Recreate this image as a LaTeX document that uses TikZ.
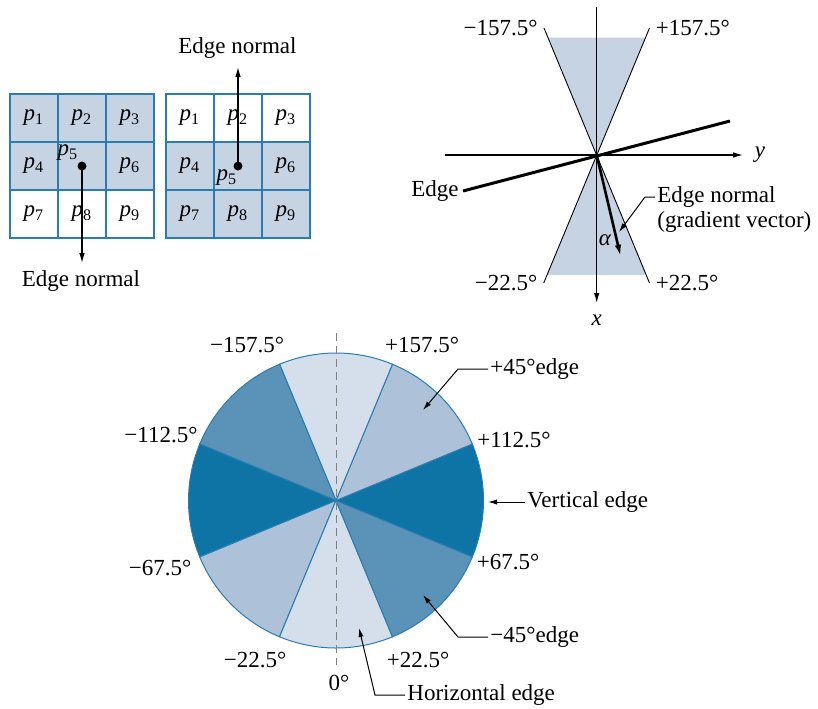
\documentclass[tikz,border=0pt]{standalone}
\usepackage{fontspec}
\setmainfont{Liberation Serif}
\usetikzlibrary{arrows.meta,positioning}
\definecolor{gridline}{HTML}{2A7DB0}
\definecolor{cellfill}{HTML}{C6D3E3}
\definecolor{secA}{HTML}{D5DFEB}
\definecolor{secB}{HTML}{ADC1D9}
\definecolor{secC}{HTML}{5A92B8}
\definecolor{secD}{HTML}{0D74A5}
\newcommand{\pix}[1]{\textit{p}\textsubscript{#1}}

\begin{document}
\begin{tikzpicture}[x=0.5pt, y=-0.5pt,
  every node/.style={font=\fontsize{11.5}{13.5}\selectfont, inner sep=1pt},
  cell/.style={draw=gridline, line width=0.7pt, minimum size=24pt, inner sep=0pt},
  shadedcell/.style={cell, fill=cellfill},
  plaincell/.style={cell, fill=white},
  dot/.style={circle, fill=black, inner sep=0pt, minimum size=4.5pt},
  arr/.style={-{Latex[length=5pt,width=2.8pt]}, line width=0.6pt},
  lead/.style={-{Latex[length=4.5pt,width=2.6pt]}, line width=0.5pt},
  wedgeline/.style={line width=0.45pt},
  edgeline/.style={line width=1.5pt},
  normalarr/.style={-{Latex[length=6pt,width=3.2pt]}, line width=1.3pt},
  sector/.style={draw=gridline, line width=0.5pt},
  angle/.style={}
]
\useasboundingbox (0,0) rectangle (818,708);

\foreach \i in {1,...,9}{
  \pgfmathtruncatemacro{\col}{mod(\i-1,3)}
  \pgfmathtruncatemacro{\row}{div(\i-1,3)}
  \ifnum\row<2
    \node[shadedcell] (L\i) at ({34+48*\col},{118+48*\row}) {\ifnum\i=5 \else\pix{\i}\fi};
  \else
    \node[plaincell] (L\i) at ({34+48*\col},{118+48*\row}) {\ifnum\i=5 \else\pix{\i}\fi};
  \fi
  \ifnum\row>0
    \node[shadedcell] (R\i) at ({190+48*\col},{118+48*\row}) {\ifnum\i=5 \else\pix{\i}\fi};
  \else
    \node[plaincell] (R\i) at ({190+48*\col},{118+48*\row}) {\ifnum\i=5 \else\pix{\i}\fi};
  \fi
}
\node (lp5) at (68,153) {\pix{5}};
\node (rp5) at (227,178) {\pix{5}};
\node[dot] (ldot) at (L5.center) {};
\node[dot] (rdot) at (R5.center) {};
\coordinate (ltip) at (82,263);
\coordinate (rtip) at (238,67);
\node (lnormal) at (81,281) {Edge normal};
\node (rnormal) at (237.5,48) {Edge normal};
\draw[arr] (ldot.center) -- (ltip);
\draw[arr] (rdot.center) -- (rtip);

\coordinate (o) at (596.7,155);
\coordinate (xtop) at (596.7,7);
\coordinate (xtip) at (596.7,303);
\coordinate (yleft) at (445,155);
\coordinate (ytip) at (743,155);
\coordinate (w1) at (544,28);
\coordinate (w2) at (649.5,28);
\coordinate (w3) at (543.7,283);
\coordinate (w4) at (649.5,283);
\fill[cellfill] (o) -- (548.1,37.7) -- (645.3,37.7) -- cycle;
\fill[cellfill] (o) -- (547,275) -- (646.4,275) -- cycle;
\draw[wedgeline] (w1) -- (w4);
\draw[wedgeline] (w2) -- (w3);
\draw[arr] (xtop) -- (xtip);
\draw[arr] (yleft) -- (ytip);
\node (xlab) at (596.7,320) {\textit{x}};
\node (ylab) at (760,155) {\textit{y}};
\node[left=2pt of w1] (tm157) {−157.5°};
\node[right=2pt of w2] (tp157) {+157.5°};
\node[left=2pt of w3] (tm22) {−22.5°};
\node[right=2pt of w4] (tp22) {+22.5°};
\coordinate (edgeL) at (463,191);
\coordinate (edgeR) at (730,121);
\draw[edgeline] (edgeL) -- (edgeR);
\node[left=1pt of edgeL] (edgelab) {Edge};
\coordinate (ntip) at (620.7,256.7);
\draw[normalarr] (o) -- (ntip);
\node (alpha) at (605,240) {\textit{α}};
\node[anchor=west] (gn1) at (655,197) {Edge normal};
\node[anchor=west] (gn2) at (655,222) {(gradient vector)};
\coordinate (gtip) at (619,232);
\draw[lead] (gn1.west) -- ++(-10,0) -- (gtip);

\coordinate (c) at (336,500.5);
\foreach \a/\fc in {-22.5/secD, 22.5/secB, 67.5/secA, 112.5/secC, 157.5/secD, 202.5/secB, 247.5/secA, 292.5/secC}
  \filldraw[sector, fill=\fc] (c) -- ++(\a:73.75pt) arc[start angle=\a, end angle=\a+45, radius=73.75pt] -- cycle;
\coordinate (dtop) at (336,333);
\coordinate (dbot) at (336,665);
\draw[gray, line width=0.5pt, dash pattern=on 4pt off 2.5pt] (dtop) -- (dbot);

\node (cm157) at (247,345) {−157.5°};
\node (cp157) at (422,345) {+157.5°};
\node (cm112) at (161,435) {−112.5°};
\node (cp112) at (514,440) {+112.5°};
\node (cm67) at (160,568) {−67.5°};
\node (cp67) at (508,562) {+67.5°};
\node (cm22) at (255,660) {−22.5°};
\node (cp22) at (418,660) {+22.5°};
\node (czero) at (339,683) {0°};

\node[anchor=west] (e45) at (488,369) {+45°edge};
\node[anchor=west] (vert) at (525,502) {Vertical edge};
\node[anchor=west] (em45) at (488,637) {−45°edge};
\node[anchor=west] (hor) at (405,695) {Horizontal edge};
\coordinate (t45) at (423,410);
\coordinate (tvert) at (488,502);
\coordinate (tm45) at (423,595);
\coordinate (thor) at (359,628);
\draw[lead] (e45.west) -- ++(-30,0) -- (t45);
\draw[lead] (vert.west) -- (tvert);
\draw[lead] (em45.west) -- ++(-30,0) -- (tm45);
\draw[lead] (hor.west) -- ++(-30,0) -- (thor);
\end{tikzpicture}
\end{document}
